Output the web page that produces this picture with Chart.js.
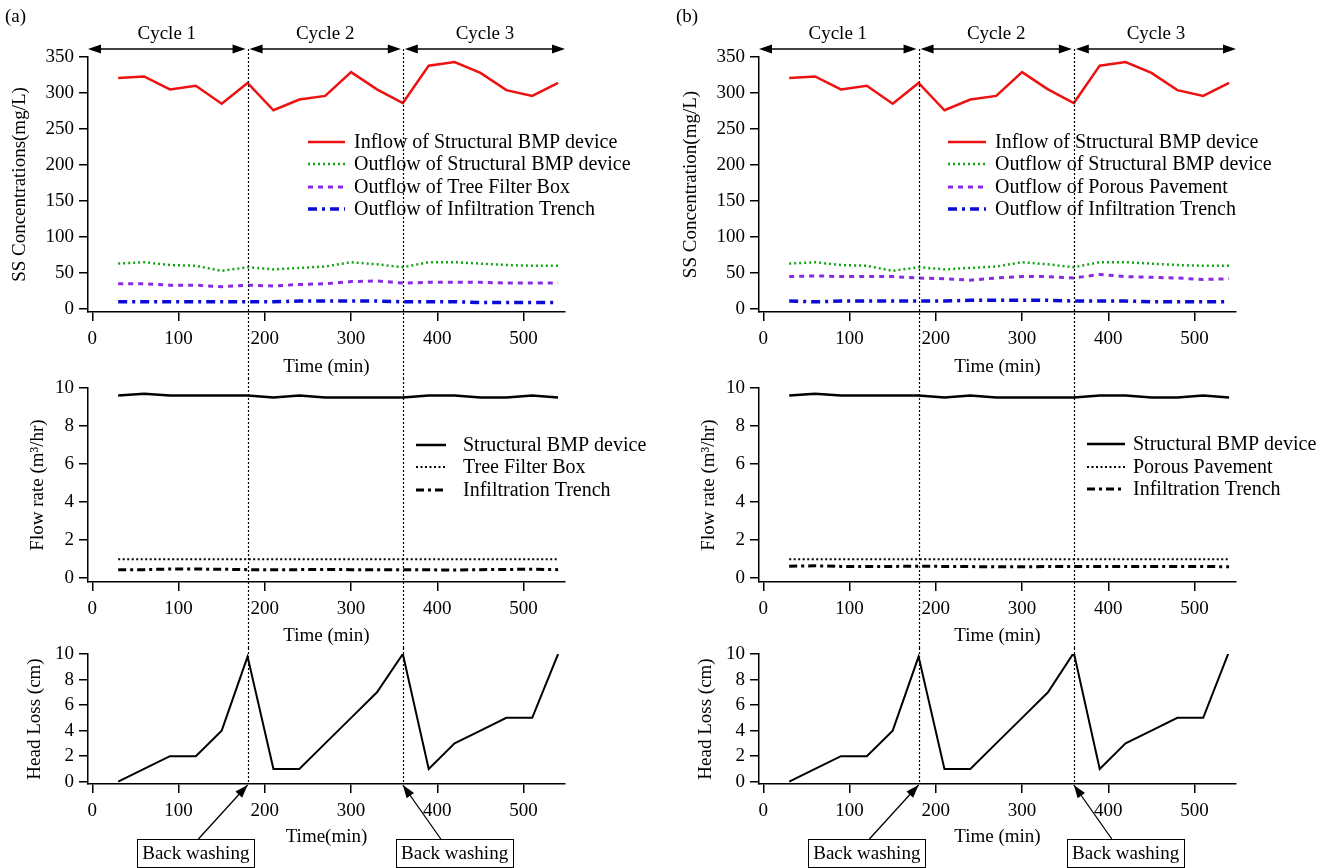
<!DOCTYPE html>
<html>
<head>
<meta charset="utf-8">
<title>SS concentration, flow rate and head loss</title>
<script src="https://cdn.jsdelivr.net/npm/chart.js@4.4.1/dist/chart.umd.min.js"></script>
<style>
  body { margin: 0; background: #fff; width: 1330px; height: 868px; overflow: hidden; position: relative; }
  canvas { position: absolute; }
</style>
</head>
<body>
<canvas id="ssA"></canvas>
<canvas id="flowA"></canvas>
<canvas id="headA"></canvas>
<canvas id="ssB"></canvas>
<canvas id="flowB"></canvas>
<canvas id="headB"></canvas>
<script>
// Sampling times and axis ticks
const timeMin = [30, 60, 90, 120, 150, 180, 210, 240, 270, 300, 330, 360, 390, 420, 450, 480, 510, 540]
const timeTicks = [0, 100, 200, 300, 400, 500]
const ssTicks = [0, 50, 100, 150, 200, 250, 300, 350]
const flowTicks = [0, 2, 4, 6, 8, 10]
const headTicks = [0, 2, 4, 6, 8, 10]

// Filter cycles and back washing events (minutes)
const cycleLabels = ['Cycle 1', 'Cycle 2', 'Cycle 3']
const cycleBounds = [0, 180, 360, 540]
const backwashTimes = [180, 360]
const backwashBoxAt = [120, 420]
const backwashTailAt = [123, 404]

// SS concentration (mg/L)
const ssInflow = [321, 323, 305, 310, 285, 314, 276, 291, 296, 329, 305, 286, 338, 343, 328, 304, 296, 314]
const ssOutflowBmp = [63, 65, 61, 60, 53, 58, 55, 57, 59, 65, 62, 58, 65, 65, 63, 61, 60, 60]
const ssTreeFilter = [35, 35, 33, 33, 31, 33, 32, 34, 35, 38, 39, 36, 37, 37, 37, 36, 36, 36]
const ssTrenchA = [10, 10, 10, 10, 10, 10, 10, 11, 11, 11, 11, 10, 10, 10, 9, 9, 9, 9]
const ssPorous = [45, 46, 45, 45, 45, 43, 42, 40, 43, 45, 45, 43, 48, 45, 44, 43, 41, 42]
const ssTrenchB = [11, 10, 11, 11, 11, 11, 11, 12, 12, 12, 12, 11, 11, 11, 10, 10, 10, 10]

// Flow rate (m3/hr)
const flowBmp = [9.6, 9.7, 9.6, 9.6, 9.6, 9.6, 9.5, 9.6, 9.5, 9.5, 9.5, 9.5, 9.6, 9.6, 9.5, 9.5, 9.6, 9.5]
const flowTreeFilter = [1.0, 1.0, 1.0, 1.0, 1.0, 1.0, 1.0, 1.0, 1.0, 1.0, 1.0, 1.0, 1.0, 1.0, 1.0, 1.0, 1.0, 1.0]
const flowTrenchA = [0.45, 0.45, 0.48, 0.48, 0.47, 0.45, 0.44, 0.45, 0.46, 0.45, 0.45, 0.45, 0.44, 0.43, 0.45, 0.46, 0.47, 0.45]
const flowPorous = [1.0, 1.0, 1.0, 1.0, 1.0, 1.0, 1.0, 1.0, 1.0, 1.0, 1.0, 1.0, 1.0, 1.0, 1.0, 1.0, 1.0, 1.0]
const flowTrenchB = [0.63, 0.65, 0.62, 0.62, 0.62, 0.63, 0.62, 0.61, 0.6, 0.6, 0.61, 0.61, 0.61, 0.61, 0.62, 0.62, 0.62, 0.6]

// Head loss (cm)
const headLossA = [0, 1, 2, 2, 4, 9.8, 1, 1, 3, 5, 7, 10, 1, 3, 4, 5, 5, 10]
const headLossB = [0, 1, 2, 2, 4, 9.8, 1, 1, 3, 5, 7, 10.1, 1, 3, 4, 5, 5, 10.2]

const FONT = 'Liberation Serif'
Chart.defaults.font.family = FONT
Chart.defaults.font.size = 19
Chart.defaults.color = '#000'

const COL_LEFT = [0, 671]
const COL_WIDTH = 659
// canvases overlap a little (overlap px) so top tick labels are not cut off
const ROWS = {
  ss: { top: 0, height: 378, overlap: 0, padTop: 57, xHeight: 66, titleBottom: 0 },
  flow: { top: 363, height: 285, overlap: 15, padTop: 25, xHeight: 66, titleBottom: 1 },
  head: { top: 633, height: 235, overlap: 15, padTop: 21, xHeight: 84, titleBottom: 20 }
}

function toPoints(values) {
  return values.map((v, i) => ({ x: timeMin[i], y: v }))
}

function series(label, values, color, width, dash) {
  return {
    label,
    data: toPoints(values),
    borderColor: color,
    backgroundColor: color,
    borderWidth: width,
    borderDash: dash,
    pointRadius: 0,
    tension: 0,
    fill: false
  }
}

function arrowHead(ctx, fromX, fromY, toX, toY, len, half) {
  const ang = Math.atan2(toY - fromY, toX - fromX)
  const bx = toX - len * Math.cos(ang)
  const by = toY - len * Math.sin(ang)
  ctx.beginPath()
  ctx.moveTo(toX, toY)
  ctx.lineTo(bx + half * Math.sin(ang), by - half * Math.cos(ang))
  ctx.lineTo(bx - half * Math.sin(ang), by + half * Math.cos(ang))
  ctx.closePath()
  ctx.fill()
}

// Panel letter, cycle arrows, legend, back washing lines and boxes
const decorPlugin = {
  id: 'decor',
  afterDraw(chart, args, opts) {
    const ctx = chart.ctx
    const xs = chart.scales.x
    const area = chart.chartArea
    ctx.save()
    ctx.fillStyle = '#000'
    ctx.strokeStyle = '#000'

    if (opts.panel) {
      ctx.font = `19px ${FONT}`
      ctx.textAlign = 'left'
      ctx.textBaseline = 'middle'
      ctx.fillText(opts.panel, 5, 17)
    }

    // dotted back washing markers
    const lineTop = opts.cycles ? opts.cycleY : opts.overlap
    const lineBottom = opts.boxes ? area.bottom : chart.height
    ctx.lineWidth = 1.2
    ctx.setLineDash([2, 2])
    backwashTimes.forEach((t) => {
      const px = Math.round(xs.getPixelForValue(t)) + 0.5
      ctx.beginPath()
      ctx.moveTo(px, lineTop)
      ctx.lineTo(px, lineBottom)
      ctx.stroke()
    })
    ctx.setLineDash([])

    if (opts.cycles) {
      const y = opts.cycleY
      ctx.lineWidth = 1.5
      ctx.font = `19px ${FONT}`
      ctx.textAlign = 'center'
      ctx.textBaseline = 'middle'
      cycleLabels.forEach((label, i) => {
        const startVal = i === 0 ? xs.min : cycleBounds[i]
        const endVal = i === cycleLabels.length - 1 ? xs.max : cycleBounds[i + 1]
        const x0 = xs.getPixelForValue(startVal) + (i === 0 ? 0 : 2)
        const x1 = xs.getPixelForValue(endVal) - (i === cycleLabels.length - 1 ? 0 : 2)
        ctx.beginPath()
        ctx.moveTo(x0 + 4, y)
        ctx.lineTo(x1 - 4, y)
        ctx.stroke()
        arrowHead(ctx, x1, y, x0, y, 13, 4.5)
        arrowHead(ctx, x0, y, x1, y, 13, 4.5)
        ctx.fillText(label, (x0 + x1) / 2, y - 15)
      })
    }

    if (opts.legend) {
      const lg = opts.legend
      ctx.font = `20px ${FONT}`
      ctx.textAlign = 'left'
      ctx.textBaseline = 'middle'
      chart.data.datasets.forEach((ds, i) => {
        const y = lg.rowY[i]
        ctx.strokeStyle = ds.borderColor
        ctx.lineWidth = ds.borderWidth
        ctx.setLineDash(ds.borderDash || [])
        ctx.beginPath()
        ctx.moveTo(lg.lineX, y)
        ctx.lineTo(lg.lineX + lg.lineLen, y)
        ctx.stroke()
        ctx.setLineDash([])
        ctx.fillStyle = '#000'
        ctx.fillText(ds.label, lg.textX, y + 1)
      })
    }

    if (opts.boxes) {
      ctx.strokeStyle = '#000'
      ctx.fillStyle = '#000'
      ctx.font = `19px ${FONT}`
      ctx.textAlign = 'center'
      ctx.textBaseline = 'middle'
      const boxTop = area.bottom + 55
      const boxH = 28
      backwashTimes.forEach((t, i) => {
        const cx = xs.getPixelForValue(backwashBoxAt[i])
        const w = ctx.measureText('Back washing').width + 10
        ctx.lineWidth = 1
        ctx.strokeRect(Math.round(cx - w / 2) + 0.5, boxTop + 0.5, Math.round(w), boxH)
        ctx.fillText('Back washing', cx, boxTop + boxH / 2 + 1)
        const tx = xs.getPixelForValue(backwashTailAt[i])
        const hx = xs.getPixelForValue(t)
        const hy = area.bottom + 1
        ctx.lineWidth = 1.3
        ctx.beginPath()
        ctx.moveTo(tx, boxTop)
        ctx.lineTo(hx, hy)
        ctx.stroke()
        arrowHead(ctx, tx, boxTop, hx, hy, 13, 4.5)
      })
    }
    ctx.restore()
  }
}

// keep every plot area at the same fixed place inside its canvas
function fixPadding(scale) {
  scale.paddingTop = 0
  scale.paddingBottom = 0
  scale.paddingLeft = 0
  scale.paddingRight = 0
}

function axisX(row) {
  return {
    type: 'linear',
    min: -5,
    max: 548,
    afterFit: (scale) => { scale.height = row.xHeight; fixPadding(scale) },
    afterBuildTicks: (scale) => { scale.ticks = timeTicks.map((v) => ({ value: v })) },
    grid: { drawOnChartArea: false, drawTicks: true, tickLength: 9, color: '#000', lineWidth: 1.5 },
    border: { display: true, color: '#000', width: 1.5 },
    ticks: { padding: 7, maxRotation: 0, autoSkip: false, color: '#000' },
    title: { display: true, text: row.xTitle, padding: { top: 0, bottom: row.titleBottom }, color: '#000' }
  }
}

function axisY(min, max, ticks, title, titlePad) {
  return {
    type: 'linear',
    min,
    max,
    afterFit: (scale) => { scale.width = 88; fixPadding(scale) },
    afterBuildTicks: (scale) => { scale.ticks = ticks.map((v) => ({ value: v })) },
    grid: { drawOnChartArea: false, drawTicks: true, tickLength: 9, color: '#000', lineWidth: 1.5 },
    border: { display: true, color: '#000', width: 1.5 },
    ticks: { padding: 5, autoSkip: false, color: '#000' },
    title: { display: true, text: title, padding: { top: titlePad, bottom: 0 }, color: '#000' }
  }
}

function makeChart(id, col, rowKey, xTitle, yAxis, datasets, decor) {
  const row = Object.assign({ xTitle }, ROWS[rowKey])
  const canvas = document.getElementById(id)
  canvas.width = COL_WIDTH
  canvas.height = row.height
  canvas.style.left = COL_LEFT[col] + 'px'
  canvas.style.top = row.top + 'px'
  decor.overlap = row.overlap
  return new Chart(canvas.getContext('2d'), {
    type: 'line',
    data: { datasets },
    options: {
      responsive: false,
      animation: false,
      devicePixelRatio: 1,
      layout: { autoPadding: false, padding: { left: 0, right: COL_WIDTH - 565, top: row.padTop, bottom: 0 } },
      plugins: { legend: { display: false }, tooltip: { enabled: false }, decor },
      scales: { x: axisX(row), y: yAxis }
    },
    plugins: [decorPlugin]
  })
}

const RED = '#ee1111'
const GREEN = '#14a514'
const PURPLE = '#8a2be2'
const BLUE = '#0b0bd8'

// (a) Tree Filter Box
makeChart('ssA', 0, 'ss', 'Time (min)',
  axisY(-4.2, 350, ssTicks, 'SS Concentrations(mg/L)', 9),
  [
    series('Inflow of Structural BMP device', ssInflow, RED, 2.5, []),
    series('Outflow of Structural BMP device', ssOutflowBmp, GREEN, 2.5, [2, 3]),
    series('Outflow of Tree Filter Box', ssTreeFilter, PURPLE, 3, [5, 5]),
    series('Outflow of Infiltration Trench', ssTrenchA, BLUE, 3.5, [9, 5, 3, 5])
  ],
  { panel: '(a)', cycles: true, cycleY: 49, legend: { lineX: 308, lineLen: 37, textX: 354, rowY: [142, 164, 187, 209] } })

makeChart('flowA', 0, 'flow', 'Time (min)',
  axisY(-0.2, 10, flowTicks, 'Flow rate (m³/hr)', 27),
  [
    series('Structural BMP device', flowBmp, '#000', 2.5, []),
    series('Tree Filter Box', flowTreeFilter, '#000', 2, [2, 2.5]),
    series('Infiltration Trench', flowTrenchA, '#000', 3, [8, 4, 3, 4])
  ],
  { legend: { lineX: 416, lineLen: 30, textX: 463, rowY: [82, 104, 127] } })

makeChart('headA', 0, 'head', 'Time(min)',
  axisY(-0.18, 10, headTicks, 'Head Loss (cm)', 24),
  [series('Head loss', headLossA, '#000', 2, [])],
  { boxes: true })

// (b) Porous Pavement
makeChart('ssB', 1, 'ss', 'Time (min)',
  axisY(-4.2, 350, ssTicks, 'SS Concentration(mg/L)', 9),
  [
    series('Inflow of Structural BMP device', ssInflow, RED, 2.5, []),
    series('Outflow of Structural BMP device', ssOutflowBmp, GREEN, 2.5, [2, 3]),
    series('Outflow of Porous Pavement', ssPorous, PURPLE, 3, [5, 5]),
    series('Outflow of Infiltration Trench', ssTrenchB, BLUE, 3.5, [9, 5, 3, 5])
  ],
  { panel: '(b)', cycles: true, cycleY: 49, legend: { lineX: 277, lineLen: 38, textX: 324, rowY: [142, 164, 187, 209] } })

makeChart('flowB', 1, 'flow', 'Time (min)',
  axisY(-0.2, 10, flowTicks, 'Flow rate (m³/hr)', 27),
  [
    series('Structural BMP device', flowBmp, '#000', 2.5, []),
    series('Porous Pavement', flowPorous, '#000', 2, [2, 2.5]),
    series('Infiltration Trench', flowTrenchB, '#000', 3, [8, 4, 3, 4])
  ],
  { legend: { lineX: 416, lineLen: 38, textX: 462, rowY: [81, 104, 126] } })

makeChart('headB', 1, 'head', 'Time (min)',
  axisY(-0.18, 10, headTicks, 'Head Loss (cm)', 24),
  [series('Head loss', headLossB, '#000', 2, [])],
  { boxes: true })
</script>
</body>
</html>
